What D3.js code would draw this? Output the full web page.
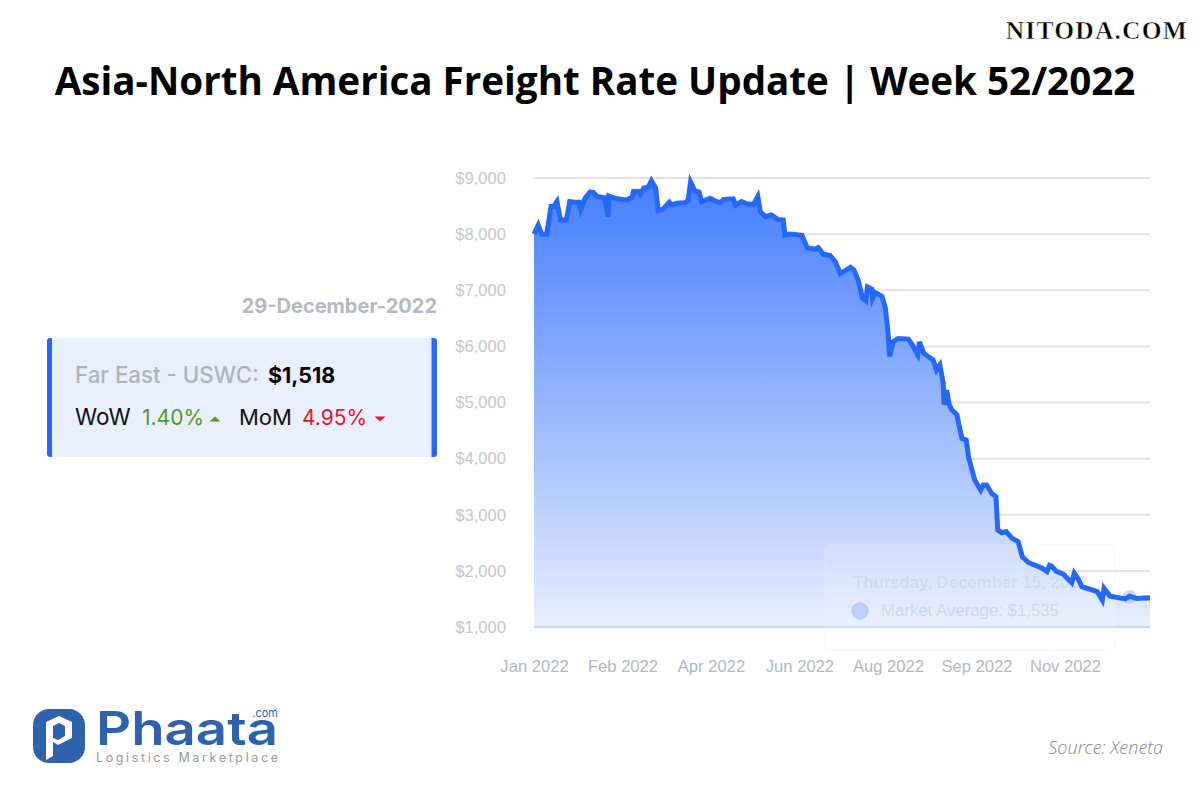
<!DOCTYPE html>
<html><head><meta charset="utf-8">
<script src="https://cdn.jsdelivr.net/npm/d3@7/dist/d3.min.js"></script>
<style>html,body{margin:0;padding:0;background:#fff;overflow:hidden}svg{display:block}</style>
</head><body><svg id="c" width="1200" height="800"></svg>
<script>
const titleText = "Asia-North America Freight Rate Update | Week 52/2022";
const watermark = "NITODA.COM";
const dateText = "29-December-2022";
const laneText = "Far East - USWC:";
const laneValue = "$1,518";
const wowLabel = "WoW", wowValue = "1.40%", momLabel = "MoM", momValue = "4.95%";
const sourceText = "Source: Xeneta";
const tickDays = [0,52,104,156,208,260,312];
const tickLabels = ["Jan 2022","Feb 2022","Apr 2022","Jun 2022","Aug 2022","Sep 2022","Nov 2022"];
const yTicks = [1000,2000,3000,4000,5000,6000,7000,8000,9000];
const days = [0,2.5,4.5,7.5,10,11.5,13.5,15.5,19,21,24,26.5,27.5,30,33,35,37,41.5,43.5,44,48.5,54.5,57.5,58.5,61.5,62.5,64.5,67,69,71.5,73,76,79.5,81,84,88.5,90.5,92,94.5,97,98.5,103.5,106.5,109.5,111.5,117,118.5,122,125,129,131.5,133,136,139.5,143.5,146.5,147.5,150.5,157.5,160.5,165,167,170,174,177,180,183,186,188,190.5,193,195,196,198.5,199,200.5,204.5,206.5,208,209,211,214,220,222.5,225.5,226.5,229,232,234.5,236.5,238.5,240.5,241,242.5,244,245.5,248.5,251.5,254,255.5,259,262.5,264,266,269,271.5,272.5,275,277.5,281,284.5,287,290.5,298.5,301.5,303,304,307,311,316,317.5,319.5,322,331,334,335,338.5,347.5,350,354,361,362];
const rates = [8000,8160,8000,8000,8490,8490,8580,8250,8250,8580,8570,8570,8440,8640,8750,8740,8670,8650,8310,8680,8630,8610,8650,8760,8760,8710,8820,8830,8950,8820,8420,8450,8570,8520,8550,8560,8590,8930,8770,8750,8580,8640,8590,8560,8620,8630,8520,8580,8540,8530,8670,8400,8310,8340,8260,8250,7980,8000,7980,7760,7730,7760,7640,7620,7510,7300,7350,7410,7360,7180,6860,6810,7060,7020,6860,6960,6890,6680,6260,5820,6080,6140,6130,6020,5850,6080,5880,5810,5760,5580,5670,5340,4960,5220,4960,4870,4780,4360,4330,4010,3620,3440,3530,3530,3380,3320,2730,2680,2700,2580,2520,2250,2150,2050,1990,2100,2090,1990,1940,1790,1960,1870,1720,1630,1480,1690,1550,1500,1550,1510,1520,1518];
const tooltipDate = "Thursday, December 15, 2022";
const tooltipText = "Market Average: $1,535";
const tooltipDay = 350, tooltipRate = 1535;

const svg = d3.select("#c");
const sans = "'Liberation Sans',Arial,sans-serif", ui = "Inter,'Noto Sans',sans-serif", open = "'Open Sans',sans-serif";
const x = d3.scaleLinear().domain([0,362]).range([534,1150]);
const y = d3.scaleLinear().domain([1000,9000]).range([627,178]);
const blue = "#2468ff";

svg.append("text").attr("x",1188).attr("y",38.5).attr("text-anchor","end")
  .attr("font-family","'Liberation Serif',serif").attr("font-weight",700).attr("font-size",25.5).attr("letter-spacing",1.2)
  .attr("fill","#000").attr("stroke","#fff").attr("stroke-width",.5).text(watermark);
svg.append("text").attr("x",595).attr("y",94.5).attr("text-anchor","middle")
  .attr("font-family",open).attr("font-weight",700).attr("font-size",38.6).attr("fill","#000").text(titleText);

const grad = svg.append("defs").append("linearGradient").attr("id","g").attr("gradientUnits","userSpaceOnUse")
  .attr("x1",0).attr("x2",0).attr("y1",y(9000)).attr("y2",y(1000));
grad.append("stop").attr("offset",0).attr("stop-color","#3a76ff").attr("stop-opacity",.95);
grad.append("stop").attr("offset",1).attr("stop-color","#e6edfe").attr("stop-opacity",.95);

svg.append("g").selectAll("line").data(yTicks.slice(1)).join("line")
  .attr("x1",534).attr("x2",1150).attr("y1",d=>y(d)).attr("y2",d=>y(d)).attr("stroke","#e2e2e2").attr("stroke-width",2);

const pts = days.map((d,i)=>[d,rates[i]]);
svg.append("path").datum(pts).attr("fill","url(#g)")
  .attr("d",d3.area().x(d=>x(d[0])).y0(y(1000)).y1(d=>y(d[1])));
svg.append("line").attr("x1",534).attr("x2",1150).attr("y1",y(1000)).attr("y2",y(1000)).attr("stroke","#ccd6eb").attr("stroke-width",2);

const tt = svg.append("g");
tt.append("rect").attr("x",825).attr("y",545).attr("width",290).attr("height",105).attr("rx",6)
  .attr("fill","#fff").attr("fill-opacity",.12).attr("stroke","#eef0f6").attr("stroke-opacity",.5);
tt.append("text").attr("x",853).attr("y",588).attr("font-family",sans).attr("font-weight",700).attr("font-size",16.8)
  .attr("fill","#c9d3ea").attr("fill-opacity",.6).text(tooltipDate);
tt.append("circle").attr("cx",860).attr("cy",611).attr("r",8).attr("fill",blue).attr("fill-opacity",.2).attr("stroke",blue).attr("stroke-opacity",.12).attr("stroke-width",2);
tt.append("text").attr("x",881).attr("y",616).attr("font-family",sans).attr("font-size",16.8)
  .attr("fill","#c9d3ea").attr("fill-opacity",.85).text(tooltipText);
svg.append("circle").attr("cx",x(tooltipDay)).attr("cy",y(tooltipRate)).attr("r",7).attr("fill","#a9c2f5").attr("fill-opacity",.6);
svg.append("path").datum(pts).attr("fill","none").attr("stroke",blue).attr("stroke-width",5).attr("stroke-linejoin","miter")
  .attr("d",d3.line().x(d=>x(d[0])).y(d=>y(d[1])));

const yAxis = svg.append("g").attr("transform","translate(506,0)")
  .call(d3.axisLeft(y).tickValues(yTicks).tickSize(0).tickPadding(0).tickFormat(d3.format("$,")));
const xAxis = svg.append("g").attr("transform","translate(0,667)")
  .call(d3.axisBottom(x).tickValues(tickDays).tickSize(0).tickPadding(0).tickFormat((d,i)=>tickLabels[i]));
[yAxis,xAxis].forEach(a=>{a.select(".domain").remove();
  a.selectAll("text").attr("font-family",sans).attr("font-size",16.6).attr("fill","#b4b7c3");});
yAxis.selectAll("text").attr("fill","#c4c7d0");
xAxis.selectAll("text").attr("dy","0.32em");

svg.append("text").attr("x",437).attr("y",312.5).attr("text-anchor","end").attr("font-family",ui).attr("font-weight",700)
  .attr("font-size",20).attr("fill","#b5b8c4").text(dateText);
svg.append("rect").attr("x",47).attr("y",338).attr("width",390).attr("height",119).attr("rx",3).attr("fill",blue);
svg.append("rect").attr("x",52).attr("y",338).attr("width",379.5).attr("height",119).attr("fill","#e9effd");
const t = (tx,ty,s,c,w,sz)=>svg.append("text").attr("x",tx).attr("y",ty).attr("font-family",ui).attr("font-weight",w||400).attr("font-size",sz||20).attr("fill",c).text(s);
t(75,383,laneText,"#b0b3bf",500,22.3);
t(268,383,laneValue,"#000",700,21.4);
t(75,425,wowLabel,"#111",400,22.5);
t(142,425,wowValue,"#4f9a1f",400,21);
t(239,425,momLabel,"#111",400,22);
t(302,425,momValue,"#f5121f",400,21);
svg.append("path").attr("transform","translate(215,419)").attr("fill","#4f9a1f").attr("d","M-5.5,2.5L0,-2.5L5.5,2.5Z");
svg.append("path").attr("transform","translate(380,419)").attr("fill","#f5121f").attr("d","M-5.5,-2.5L5.5,-2.5L0,2.5Z");

const logoBlue = "#2f62ad";
svg.append("rect").attr("x",33).attr("y",709).attr("width",52).attr("height",54).attr("rx",16).attr("fill",logoBlue);
svg.append("path").attr("fill","#fff").attr("fill-rule","evenodd")
  .attr("d","M46,722L59,716L72,722L72,738L58,745L53,742L53,756L46,760ZM53,726L53,738L58,740L65,736L65,726L59,723Z");
svg.append("text").attr("x",96).attr("y",745).attr("font-family",ui).attr("font-weight",600).attr("font-size",46)
  .attr("textLength",182).attr("lengthAdjust","spacingAndGlyphs").attr("fill",logoBlue).text("Phaata");
svg.append("text").attr("x",278).attr("y",717).attr("text-anchor","end").attr("font-family",ui).attr("font-size",11).attr("fill",logoBlue).text(".com");
svg.append("text").attr("x",96).attr("y",762).attr("font-family",ui).attr("font-size",12.5).attr("textLength",182).attr("fill","#9a9a9a").text("Logistics Marketplace");

svg.append("text").attr("x",1163).attr("y",754).attr("text-anchor","end").attr("font-family",open).attr("font-style","italic").attr("font-weight",300)
  .attr("font-size",18).attr("fill","#8a8a8a").text(sourceText);
</script></body></html>
